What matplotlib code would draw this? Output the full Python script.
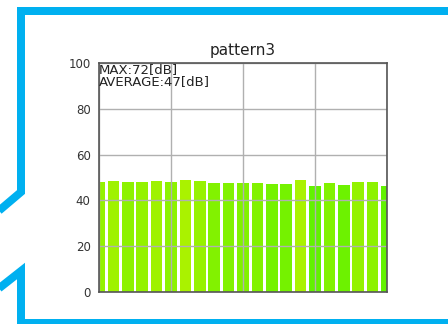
import numpy as np
import matplotlib
matplotlib.use("Agg")
import matplotlib.pyplot as plt
from matplotlib.colors import LinearSegmentedColormap, Normalize
from matplotlib.lines import Line2D

# ===============================
# DATA
# ===============================
TITLE = "pattern3"
MAX_DB = 72
AVERAGE_DB = 47
channels = list(range(21))
levels = [48.2, 48.6, 47.9, 48.2, 48.6, 47.9, 49.0, 48.3, 47.5, 47.5, 47.5,
          47.5, 47.0, 47.0, 49.0, 46.3, 47.5, 46.7, 48.2, 47.9, 46.3]
y_ticks = [0, 20, 40, 60, 80, 100]

# ===============================
# FIGURE
# ===============================
W, H, DPI = 448, 324, 100
fig = plt.figure(figsize=(W / DPI, H / DPI), dpi=DPI)
fig.patch.set_facecolor("white")

ax = fig.add_axes([99 / W, 1 - 292 / H, 288 / W, 229 / H])

# bar colour follows the level: greener when lower, yellower when higher
cmap = LinearSegmentedColormap.from_list("lvl", ["#40f200", "#c4f200"])
norm = Normalize(45, 50)
colors = [cmap(norm(v)) for v in levels]

ax.bar(channels, levels, width=0.8, color=colors, align="center")

ax.set_xlim(0, 20)
ax.set_ylim(0, 100)
ax.set_xticks([0, 5, 10, 15, 20])
ax.set_xticklabels([])
ax.set_yticks(y_ticks)
ax.tick_params(axis="both", length=0, pad=6, labelsize=8.5, labelcolor="#333333")
ax.grid(True, color="#b0b0b0", linewidth=1.0)
ax.set_axisbelow(False)
for sp in ax.spines.values():
    sp.set_color("#555555")
    sp.set_linewidth(1.2)
    sp.set_zorder(5)

ax.set_title(TITLE, fontsize=11, color="#222222", pad=6)
ax.text(0.0, 1.0, f"MAX:{MAX_DB}[dB]\nAVERAGE:{AVERAGE_DB}[dB]",
        transform=ax.transAxes, ha="left", va="top", fontsize=9.5,
        color="#222222", linespacing=0.95, zorder=6)

# ===============================
# CALLOUT FRAME
# ===============================
upper = [(470, 11), (21, 11), (21, 192), (-12, 220)]
lower = [(-12, 297), (21, 271), (21, 323), (470, 323)]

def to_fig(pts):
    xs = [p[0] / W for p in pts]
    ys = [1 - p[1] / H for p in pts]
    return xs, ys

for seg in (upper, lower):
    xs, ys = to_fig(seg)
    fig.add_artist(Line2D(xs, ys, transform=fig.transFigure, color="#00b0f0",
                          linewidth=8 * 72 / DPI, solid_joinstyle="miter",
                          solid_capstyle="butt"))

fig.savefig("out.png", dpi=DPI)
